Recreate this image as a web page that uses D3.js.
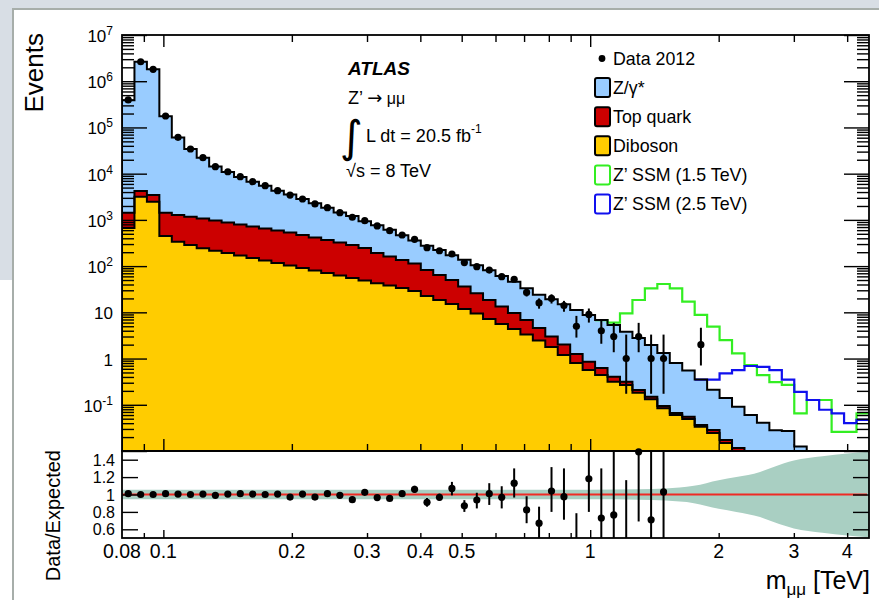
<!DOCTYPE html>
<html><head><meta charset="utf-8">
<script src="https://cdn.jsdelivr.net/npm/d3@7"></script>
<style>
html,body{margin:0;padding:0;background:#fff;}
svg{display:block;font-family:"Liberation Sans",Arial,Helvetica,sans-serif;}
</style></head><body>
<svg id="c" width="879" height="600"></svg>
<script>
// ---------------- DATA ----------------
const binEdges = [0.08,0.08556,0.0915,0.09786,0.10466,0.11193,0.1197,0.12802,0.13691,0.14642,
 0.15659,0.16747,0.1791,0.19154,0.20485,0.21908,0.2343,0.25057,0.26798,0.28659,
 0.3065,0.32782,0.35059,0.37494,0.40099,0.42884,0.45863,0.49049,0.52456,0.561,
 0.59997,0.64165,0.68622,0.73389,0.78487,0.83939,0.8977,0.96006,1.02675,1.09807,
 1.17435,1.25593,1.34317,1.43648,1.53626,1.64298,1.75711,1.87917,2.00971,2.14931,
 2.29862,2.45829,2.62906,2.81169,3.007,3.21588,3.43927,3.67818,3.93368,4.20694,4.5];

const data = [393000,2640000,1810000,177000,61200,34200,22200,14200,11000,8590,
 6700,5500,4280,3450,2830,2210,1840,1430,1140,960,
 740,583,471,380,250,215,183,119,97,82,
 59,52,27,16,20,14,5,9,4,3,
 1,3,1,1,0,0,2,0,0,0,
 0,0,0,0,0,0,0,0,0,0];
const dataLow  = [null,null,null,null,null,null,null,null,null,null,
 null,null,null,null,null,null,null,null,null,null,
 null,null,null,null,234,200,170,108,87,73,
 51,45,22,12,15.5,10.3,2.84,6.0,2.09,1.37,
 0.173,1.37,0.173,0.173,null,null,0.708,null,null,null,
 null,null,null,null,null,null,null,null,null,null];
const dataHigh = [null,null,null,null,null,null,null,null,null,null,
 null,null,null,null,null,null,null,null,null,null,
 null,null,null,null,266,230,197,130,107,91,
 67,59,32,20,24.5,17.7,8.38,12.1,7.16,5.92,
 3.30,5.92,3.30,3.30,null,null,4.64,null,null,null,
 null,null,null,null,null,null,null,null,null,null];

const zgamma = [387600,2635800,1806500,173600,59600,33030,21030,13330,10020,7710,
 5950,4850,3670,3030,2350,1864,1453,1116,924,691,
 575,449,330,244,193,158,121,101,78,62.5,
 47.6,36.3,26.2,19.4,16.2,13.0,9.95,7.85,6.18,4.9,
 3.49,2.56,1.81,1.23,0.734,0.495,0.314,0.182,0.123,0.079,
 0.054,0.037,0.025,0.025,0.011,0.0059,0.0042,0.0033,0.0025,0.0016];
const topQuark = [763,1040,980,982,939,886,829,755,685,625,
 569,519,472,430,380,336,296,261,231,197,
 150,123,102,85,59.5,45.5,34.9,24.2,16.6,11.3,
 7.8,5.34,3.49,2.15,1.22,0.82,0.45,0.29,0.184,0.09,
 0.047,0.026,0.018,0.010,0.006,0.006,0.003,0.0039,0.0024,0.0021,
 0.0014,0.001,0.001,0.0005,0.0005,0.0003,0.0002,0.0002,0.0001,0.0001];
const diboson = [667,3180,2470,448,337,286,243,215,192,169,
 150,132,117,103,91,80,71,63,55,48.8,
 42.5,38,33.6,28.9,22.5,18.5,15.1,11.8,9.4,7.2,
 5.6,4.36,3.31,2.45,1.78,1.19,0.80,0.565,0.44,0.315,
 0.268,0.182,0.131,0.084,0.060,0.049,0.0335,0.0245,0.0149,0.0095,
 0.005,0.003,0.002,0.0015,0.001,0.0008,0.0006,0.0005,0.0004,0.0003];

// Z' signal + background (drawn only where shown)
const zp1500 = [null,null,null,null,null,null,null,null,null,null,
 null,null,null,null,null,null,null,null,null,null,
 null,null,null,null,null,null,null,null,null,null,
 null,null,null,null,null,null,null,null,6.8,6.0,
 9.5,18.5,33,41,33,17,8.8,4.9,2.5,1.3,
 0.72,0.44,0.31,0.27,0.065,0.127,0.127,0.026,0.026,0.065];
const zp2500 = [null,null,null,null,null,null,null,null,null,null,
 null,null,null,null,null,null,null,null,null,null,
 null,null,null,null,null,null,null,null,null,null,
 null,null,null,null,null,null,null,null,null,null,
 null,null,null,null,null,null,0.35,0.35,0.48,0.56,
 0.69,0.66,0.56,0.35,0.19,0.127,0.078,0.065,0.040,0.047];

// ratio panel
const ratio = [1.01,1.00,1.00,1.01,1.005,1.00,1.005,0.99,1.005,1.01,
 1.005,1.00,1.005,0.97,1.005,0.97,1.01,0.99,0.94,1.025,
 0.965,0.955,1.01,1.06,0.91,0.968,1.07,0.87,0.937,1.01,
 0.968,1.13,0.823,0.67,1.04,0.975,0.43,1.18,0.73,0.765,
 0.35,1.49,0.71,1.03];
const ratioLow = [null,null,null,null,null,null,null,null,null,null,
 null,null,null,null,null,null,null,null,null,null,
 null,null,null,1.02,0.86,0.93,0.99,0.80,0.84,0.88,
 0.84,0.965,0.67,0.50,0.80,0.71,0.24,0.80,0.38,0.35,
 0.05,0.69,0.12,0.17];
const ratioHigh = [null,null,null,null,null,null,null,null,null,null,
 null,null,null,null,null,null,null,null,null,null,
 null,null,null,1.10,0.96,1.01,1.145,0.935,1.02,1.13,
 1.095,1.30,0.98,0.86,1.315,1.30,0.785,1.7,1.30,1.49,
 1.165,3.0,2.3,3.4];
const bandMass = [0.08,0.3,0.6,1.0,1.3,1.5,1.75,2.0,2.2,2.5,2.7,3.0,3.5,4.0,4.5];
const bandHalf = [0.055,0.055,0.055,0.055,0.06,0.07,0.10,0.165,0.20,0.26,0.32,0.39,0.44,0.47,0.49];

const yMajorExp = [-2,-1,0,1,2,3,4,5,6,7];
const yLabelExp = [-1,0,1,2,3,4,5,6,7];
const xLabels = [0.08,0.1,0.2,0.3,0.4,0.5,1,2,3,4];
const xLongTicks = [0.1,1];
const xShortTicks = [0.09,0.2,0.3,0.4,0.5,0.6,0.7,0.8,0.9,2,3,4];
const rTicks = [0.6,0.8,1.0,1.2,1.4];
const rLabels = ["0.6","0.8","1","1.2","1.4"];

const legendItems = [
 {label:"Data 2012", type:"dot"},
 {label:"Z/\u03b3*", type:"box", fill:"#99ccff", stroke:"#000"},
 {label:"Top quark", type:"box", fill:"#cc0000", stroke:"#000"},
 {label:"Diboson", type:"box", fill:"#ffcc00", stroke:"#000"},
 {label:"Z\u2019 SSM (1.5 TeV)", type:"box", fill:"#fff", stroke:"#33ee22"},
 {label:"Z\u2019 SSM (2.5 TeV)", type:"box", fill:"#fff", stroke:"#1010ee"}
];

// ---------------- LAYOUT ----------------
const L=122, R=869, T=35, B=451, RB=538;
const svg = d3.select('#c');

svg.append('rect').attr('x',0).attr('y',0).attr('width',879).attr('height',600).attr('fill','#fff');
svg.append('rect').attr('x',0).attr('y',0).attr('width',879).attr('height',9).attr('fill','#d8dee5');
svg.append('rect').attr('x',0).attr('y',0).attr('width',13).attr('height',280).attr('fill','#d8dee5');
svg.append('line').attr('x1',12).attr('x2',879).attr('y1',9).attr('y2',9).attr('stroke','#a7aeaa').attr('stroke-width',2);
svg.append('line').attr('x1',13).attr('x2',13).attr('y1',9).attr('y2',600).attr('stroke','#a7aeaa').attr('stroke-width',2);

const x = d3.scaleLog().domain([0.08,4.5]).range([L,R]);
const y = d3.scaleLog().domain([1e-2,1e7]).range([B,T]).clamp(true);
const yr = d3.scaleLinear().domain([0.5,1.5]).range([RB,B]);
const Y = v => y(Math.max(v,1e-4));

const defs = svg.append('defs');
defs.append('clipPath').attr('id','cm').append('rect').attr('x',L).attr('y',T).attr('width',R-L).attr('height',B-T);
defs.append('clipPath').attr('id','cr').append('rect').attr('x',L).attr('y',B).attr('width',R-L).attr('height',RB-B);

const nb = data.length;
const rows = d3.range(nb).map(i=>({diboson:diboson[i], top:topQuark[i], zgamma:zgamma[i]}));
const series = d3.stack().keys(['diboson','top','zgamma'])(rows);
const fills = {diboson:'#ffcc00', top:'#cc0000', zgamma:'#99ccff'};

const gm = svg.append('g').attr('clip-path','url(#cm)');

const area = d3.area().x(d=>x(d.e)).y0(d=>Y(d.lo)).y1(d=>Y(d.hi)).curve(d3.curveStepAfter);
const line = d3.line().x(d=>x(d.e)).y(d=>Y(d.v)).curve(d3.curveStepAfter);

function stepPts(lo,hi){
  const p = d3.range(nb).map(i=>({e:binEdges[i], lo:lo[i], hi:hi[i]}));
  p.push({e:binEdges[nb], lo:lo[nb-1], hi:hi[nb-1]});
  return p;
}
series.forEach(s=>{
  gm.append('path').attr('d', area(stepPts(s.map(d=>d[0]), s.map(d=>d[1]))))
    .attr('fill', fills[s.key]).attr('stroke','none');
});

// signal lines
function sigLine(vals, color){
  const idx = d3.range(nb).filter(i=>vals[i]!==null);
  const pts = idx.map(i=>({e:binEdges[i], v:vals[i]}));
  const last = idx[idx.length-1];
  pts.push({e:binEdges[last+1], v:vals[last]});
  gm.append('path').attr('d', line(pts)).attr('fill','none').attr('stroke',color).attr('stroke-width',2.2);
}
sigLine(zp1500,'#33ee22');
sigLine(zp2500,'#1010ee');

// black outlines of the stack
series.forEach(s=>{
  const tops = s.map(d=>d[1]);
  const pts = [{e:binEdges[0], v:1e-4}].concat(d3.range(nb).map(i=>({e:binEdges[i], v:tops[i]})));
  pts.push({e:binEdges[nb], v:tops[nb-1]});
  gm.append('path').attr('d', line(pts)).attr('fill','none').attr('stroke','#000').attr('stroke-width',2);
});

// data
const ctr = i => Math.sqrt(binEdges[i]*binEdges[i+1]);
d3.range(nb).forEach(i=>{
  if(dataLow[i]!==null){
    gm.append('line').attr('x1',x(ctr(i))).attr('x2',x(ctr(i)))
      .attr('y1',Y(dataLow[i])).attr('y2',Y(dataHigh[i])).attr('stroke','#000').attr('stroke-width',2);
  }
  if(data[i]>0){
    gm.append('circle').attr('cx',x(ctr(i))).attr('cy',Y(data[i])).attr('r',3.6).attr('fill','#000');
  }
});

// ---------------- RATIO PANEL ----------------
const gr = svg.append('g').attr('clip-path','url(#cr)');
const bandPts = bandMass.map((m,i)=>({m, h:bandHalf[i]}));
gr.append('path').attr('d', d3.area().x(d=>x(d.m)).y0(d=>yr(1-d.h)).y1(d=>yr(1+d.h)).curve(d3.curveMonotoneX)(bandPts))
  .attr('fill','#a9cfc2');
gr.append('line').attr('x1',L).attr('x2',867).attr('y1',yr(1)).attr('y2',yr(1)).attr('stroke','#f02a24').attr('stroke-width',2.2);
ratio.forEach((r,i)=>{
  const cx = x(ctr(i));
  if(ratioLow[i]!==null){
    gr.append('line').attr('x1',cx).attr('x2',cx).attr('y1',yr(ratioLow[i])).attr('y2',yr(ratioHigh[i]))
      .attr('stroke','#000').attr('stroke-width',2);
  }
  if(r>=0.5 && r<=1.5){
    svg.append('circle').attr('cx',cx).attr('cy',yr(r)).attr('r',3.6).attr('fill','#000');
  }
});

// ---------------- AXES ----------------
const majors = yMajorExp.map(e=>Math.pow(10,e));
const minors = [];
yMajorExp.slice(0,-1).forEach(e=>{ for(let m=2;m<=9;m++) minors.push(m*Math.pow(10,e)); });

function drawAxis(axis, tx, ty){
  const g = svg.append('g').attr('transform',`translate(${tx},${ty})`).call(axis);
  g.select('.domain').remove();
  g.selectAll('.tick line').attr('stroke','#000').attr('stroke-width',1.4);
  g.selectAll('.tick text').remove();
  return g;
}
drawAxis(d3.axisRight(y).tickValues(majors).tickSize(25).tickFormat(''), L, 0);
drawAxis(d3.axisRight(y).tickValues(minors).tickSize(12).tickFormat(''), L, 0);
drawAxis(d3.axisLeft(y).tickValues(majors).tickSize(25).tickFormat(''), R, 0);
drawAxis(d3.axisLeft(y).tickValues(minors).tickSize(12).tickFormat(''), R, 0);

drawAxis(d3.axisBottom(x).tickValues(xLongTicks).tickSize(12).tickFormat(''), 0, T);
drawAxis(d3.axisBottom(x).tickValues(xShortTicks).tickSize(7).tickFormat(''), 0, T);
drawAxis(d3.axisTop(x).tickValues(xLongTicks).tickSize(12).tickFormat(''), 0, B);
drawAxis(d3.axisTop(x).tickValues(xShortTicks).tickSize(7).tickFormat(''), 0, B);
drawAxis(d3.axisTop(x).tickValues(xLongTicks).tickSize(8).tickFormat(''), 0, RB);
drawAxis(d3.axisTop(x).tickValues(xShortTicks).tickSize(5).tickFormat(''), 0, RB);

drawAxis(d3.axisRight(yr).tickValues(rTicks).tickSize(16).tickFormat(''), L, 0);
drawAxis(d3.axisLeft(yr).tickValues(rTicks).tickSize(16).tickFormat(''), R, 0);

// frames
svg.append('rect').attr('x',L).attr('y',T).attr('width',R-L).attr('height',B-T).attr('fill','none').attr('stroke','#000').attr('stroke-width',1.8);
svg.append('rect').attr('x',L).attr('y',B).attr('width',R-L).attr('height',RB-B).attr('fill','none').attr('stroke','#000').attr('stroke-width',1.8);

// y labels main
yLabelExp.forEach(e=>{
  const t = svg.append('text').attr('x',113).attr('y',y(Math.pow(10,e))+7)
    .attr('text-anchor','end').attr('font-size',17).attr('fill','#000');
  if(e===0) t.text('1');
  else if(e===1) t.text('10');
  else { t.append('tspan').text('10'); t.append('tspan').attr('dy',-7).attr('font-size',12).text(String(e)); }
});
// ratio labels
rTicks.forEach((v,i)=>{
  svg.append('text').attr('x',115).attr('y',yr(v)+6).attr('text-anchor','end').attr('font-size',16).text(rLabels[i]);
});
// x labels
xLabels.forEach(v=>{
  svg.append('text').attr('x',x(v)).attr('y',557.5).attr('text-anchor','middle').attr('font-size',19.5).text(String(v));
});

// titles
svg.append('text').attr('transform','translate(43,33) rotate(-90)').attr('text-anchor','end').attr('font-size',26).text('Events');
svg.append('text').attr('transform','translate(60,450) rotate(-90)').attr('text-anchor','end').attr('font-size',20).text('Data/Expected');
const xt = svg.append('text').attr('x',870).attr('y',589).attr('text-anchor','end').attr('font-size',25);
xt.append('tspan').text('m');
xt.append('tspan').attr('dy',6).attr('font-size',17).text('\u03bc\u03bc');
xt.append('tspan').attr('dy',-6).text(' [TeV]');

// ATLAS labels
svg.append('text').attr('x',348).attr('y',75).attr('font-size',19).attr('font-weight','bold').attr('font-style','italic').text('ATLAS');
const zt = svg.append('text').attr('x',348).attr('y',103.5).attr('font-size',18);
zt.append('tspan').text('Z\u2019 ');
zt.append('tspan').attr('font-size',18).attr('font-family','DejaVu Sans').text('\u2192');
zt.append('tspan').attr('font-size',16).text(' \u03bc\u03bc');
svg.append('text').attr('x',340).attr('y',152).attr('font-size',44).attr('font-family','DejaVu Sans').text('\u222b');
const lt = svg.append('text').attr('x',366).attr('y',141.5).attr('font-size',18);
lt.append('tspan').text('L dt = 20.5 fb');
lt.append('tspan').attr('dy',-9).attr('font-size',12).text('-1');
svg.append('text').attr('x',346).attr('y',176.5).attr('font-size',18).text('\u221as = 8 TeV');

// legend
legendItems.forEach((it,i)=>{
  const cy = 58.5 + i*29.1;
  if(it.type==='dot'){
    svg.append('circle').attr('cx',602).attr('cy',cy).attr('r',3.4).attr('fill','#000');
  } else {
    svg.append('rect').attr('x',595).attr('y',cy-9.5).attr('width',15).attr('height',19).attr('rx',2)
      .attr('fill',it.fill).attr('stroke',it.stroke).attr('stroke-width',2);
  }
  svg.append('text').attr('x',613).attr('y',cy+6.3).attr('font-size',17.8).text(it.label);
});
</script>
</body></html>
